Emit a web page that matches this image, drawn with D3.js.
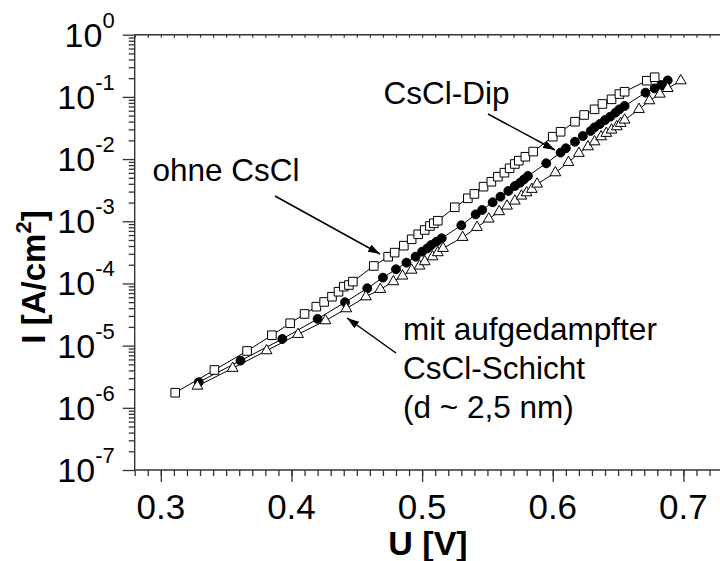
<!DOCTYPE html>
<html>
<head>
<meta charset="utf-8">
<script src="https://cdn.jsdelivr.net/npm/d3@7"></script>
<style>
  html, body { margin: 0; padding: 0; background: #fff; }
  svg { display: block; font-family: "Liberation Sans", Arial, sans-serif; }
</style>
</head>
<body>
<svg id="chart" width="720" height="561"></svg>
<script>
// Current density vs. voltage for three cells
const uOhne = [0.311,0.341,0.366,0.385,0.399,0.410,0.419,0.425,0.431,0.436,0.440,0.444,0.447,0.463,0.474,0.479,0.486,0.492,0.497,0.502,0.506,0.509,0.512,0.525,0.535,0.540,0.547,0.553,0.558,0.563,0.567,0.571,0.574,0.579,0.585,0.600,0.606,0.617,0.624,0.632,0.638,0.645,0.651,0.655,0.672,0.678];
const iOhne = [1.75e-6,4.06e-6,8.20e-6,1.47e-5,2.29e-5,3.23e-5,4.23e-5,5.04e-5,6.12e-5,7.36e-5,8.87e-5,9.44e-5,1.07e-4,1.91e-4,2.69e-4,3.13e-4,4.05e-4,5.13e-4,6.17e-4,7.24e-4,8.40e-4,9.27e-4,1.02e-3,1.68e-3,2.34e-3,2.75e-3,3.60e-3,4.32e-3,5.21e-3,6.04e-3,7.11e-3,8.34e-3,9.42e-3,1.09e-2,1.32e-2,2.29e-2,2.75e-2,3.99e-2,5.12e-2,6.31e-2,7.69e-2,9.14e-2,1.11e-1,1.21e-1,1.82e-1,2.07e-1];

const uDip = [0.329,0.361,0.393,0.420,0.441,0.458,0.470,0.480,0.488,0.495,0.500,0.504,0.507,0.511,0.515,0.530,0.541,0.546,0.554,0.560,0.566,0.571,0.575,0.578,0.581,0.595,0.606,0.610,0.617,0.623,0.629,0.632,0.636,0.640,0.644,0.648,0.651,0.655,0.671,0.678,0.683,0.688];
const iDip = [2.58e-6,5.73e-6,1.28e-5,2.69e-5,4.98e-5,8.36e-5,1.24e-4,1.69e-4,2.16e-4,2.69e-4,3.24e-4,3.67e-4,4.15e-4,4.69e-4,5.32e-4,8.61e-4,1.29e-3,1.52e-3,2.02e-3,2.48e-3,3.07e-3,3.69e-3,4.17e-3,4.73e-3,5.35e-3,8.55e-3,1.27e-2,1.49e-2,1.90e-2,2.35e-2,2.83e-2,3.24e-2,3.66e-2,4.25e-2,4.80e-2,5.57e-2,6.31e-2,7.14e-2,1.17e-1,1.37e-1,1.55e-1,1.84e-1];

const uSchicht = [0.328,0.355,0.381,0.405,0.426,0.442,0.457,0.468,0.478,0.485,0.492,0.498,0.502,0.508,0.512,0.516,0.531,0.542,0.551,0.559,0.565,0.571,0.576,0.580,0.584,0.588,0.602,0.612,0.620,0.627,0.632,0.637,0.641,0.645,0.649,0.652,0.655,0.666,0.674,0.682,0.688,0.698];
const iSchicht = [2.24e-6,4.33e-6,8.30e-6,1.52e-5,2.52e-5,3.93e-5,6.12e-5,8.05e-5,1.07e-4,1.32e-4,1.64e-4,1.91e-4,2.24e-4,2.69e-4,3.13e-4,3.67e-4,5.52e-4,8.00e-4,1.09e-3,1.43e-3,1.76e-3,2.12e-3,2.55e-3,2.88e-3,3.27e-3,3.97e-3,6.04e-3,8.87e-3,1.24e-2,1.58e-2,1.90e-2,2.29e-2,2.60e-2,2.94e-2,3.32e-2,3.76e-2,4.25e-2,6.31e-2,8.69e-2,1.11e-1,1.37e-1,1.82e-1];

const xTicks = [0.3, 0.4, 0.5, 0.6, 0.7];
const yExponents = [0, -1, -2, -3, -4, -5, -6, -7];

const svg = d3.select("#chart");
const plotLeft = 134.7, plotRight = 722.6, plotTop = 34.7, plotBottom = 470;

const x = d3.scaleLinear().domain([0.28, 0.73]).range([plotLeft, plotRight]);
const y = d3.scaleLog().domain([1e-7, 1]).range([plotBottom, plotTop]);

const axisColor = "#333";

// minor ticks every 0.01 V
const xMinor = d3.range(28, 74).map(v => v / 100);

// bottom axis
const gx = svg.append("g").attr("transform", `translate(0,${plotBottom})`);
gx.call(d3.axisBottom(x).tickValues(xMinor).tickSize(6).tickFormat(""));
gx.append("g").call(d3.axisBottom(x).tickValues(xTicks).tickSize(12).tickFormat(""));
gx.selectAll(".domain").remove();
gx.selectAll("line").attr("stroke", axisColor).attr("stroke-width", 1.3);
gx.selectAll(".lbl").data(xTicks).enter().append("text")
  .attr("x", d => x(d)).attr("y", 49)
  .attr("text-anchor", "middle").attr("font-size", 35).attr("fill", "#000")
  .text(d => d.toFixed(1));

// top axis: short inward ticks
const gt = svg.append("g").attr("transform", `translate(0,${plotTop})`);
gt.call(d3.axisBottom(x).tickValues(xMinor).tickSize(3).tickFormat(""));
gt.selectAll(".domain").remove();
gt.selectAll("line").attr("stroke", axisColor).attr("stroke-width", 1.2);

// left axis: log minor ticks
const yMinor = [];
for (let e = -7; e < 0; e++) for (let m = 2; m <= 9; m++) yMinor.push(m * Math.pow(10, e));
const gy = svg.append("g").attr("transform", `translate(${plotLeft},0)`);
gy.call(d3.axisLeft(y).tickValues(yMinor).tickSize(6).tickFormat(""));
gy.append("g").call(d3.axisLeft(y).tickValues(yExponents.map(e => Math.pow(10, e))).tickSize(12).tickFormat(""));
gy.selectAll(".domain").remove();
gy.selectAll("line").attr("stroke", axisColor).attr("stroke-width", 1.3);

const yl = gy.selectAll(".lbl").data(yExponents).enter().append("text")
  .attr("x", -20).attr("y", d => y(Math.pow(10, d)) + 12)
  .attr("text-anchor", "end").attr("font-size", 34).attr("fill", "#000");
yl.append("tspan").text("10");
yl.append("tspan").attr("dy", -19).attr("font-size", 22).text(d => d === 0 ? "0" : "-" + Math.abs(d));

// frame lines
svg.append("line").attr("x1", plotLeft).attr("x2", 720).attr("y1", plotBottom).attr("y2", plotBottom)
  .attr("stroke", axisColor).attr("stroke-width", 1.4);
svg.append("line").attr("x1", plotLeft).attr("x2", 720).attr("y1", plotTop).attr("y2", plotTop)
  .attr("stroke", axisColor).attr("stroke-width", 1.4);
svg.append("line").attr("x1", plotLeft).attr("x2", plotLeft).attr("y1", plotTop).attr("y2", plotBottom)
  .attr("stroke", axisColor).attr("stroke-width", 1.4);

// axis titles
svg.append("text").attr("x", 428).attr("y", 555).attr("text-anchor", "middle")
  .attr("font-size", 34).attr("font-weight", "bold").text("U [V]");
const yt = svg.append("text").attr("transform", "translate(45,277) rotate(-90)")
  .attr("text-anchor", "middle").attr("font-size", 33).attr("font-weight", "bold");
yt.append("tspan").text("I [A/cm");
yt.append("tspan").attr("dy", -14).attr("font-size", 22).text("2");
yt.append("tspan").attr("dy", 14).text("]");

// series
const series = [
  { u: uOhne, i: iOhne, shape: "square" },
  { u: uDip, i: iDip, shape: "circle" },
  { u: uSchicht, i: iSchicht, shape: "triangle" }
];
const line = d3.line().x(d => x(d[0])).y(d => y(d[1]));
const symbols = {
  square: d3.symbol().type(d3.symbolSquare).size(74),
  circle: d3.symbol().type(d3.symbolCircle).size(62),
  triangle: d3.symbol().type(d3.symbolTriangle).size(50)
};
series.forEach(s => {
  const pts = s.u.map((u, k) => [u, s.i[k]]);
  svg.append("path").attr("d", line(pts)).attr("fill", "none")
    .attr("stroke", "#000").attr("stroke-width", 1);
});
series.forEach(s => {
  const pts = s.u.map((u, k) => [u, s.i[k]]);
  svg.append("g").selectAll("path").data(pts).enter().append("path")
    .attr("d", symbols[s.shape])
    .attr("transform", d => `translate(${x(d[0])},${y(d[1])})`)
    .attr("fill", s.shape === "circle" ? "#000" : "#fff")
    .attr("stroke", "#000").attr("stroke-width", 1);
});

// annotations
svg.append("defs").append("marker")
  .attr("id", "head").attr("viewBox", "0 0 12 8").attr("refX", 12).attr("refY", 4)
  .attr("markerUnits", "userSpaceOnUse").attr("markerWidth", 12).attr("markerHeight", 8)
  .attr("orient", "auto")
  .append("path").attr("d", "M0,0 L12,4 L0,8 Z").attr("fill", "#000");

const arrows = [[275, 196, 380, 254], [488, 114, 555, 150], [396, 353, 347, 318]];
arrows.forEach(a => {
  svg.append("line").attr("x1", a[0]).attr("y1", a[1]).attr("x2", a[2]).attr("y2", a[3])
    .attr("stroke", "#000").attr("stroke-width", 1.5).attr("marker-end", "url(#head)");
});

const notes = [
  { x: 383.5, y: 104, t: "CsCl-Dip" },
  { x: 152.5, y: 181, t: "ohne CsCl" },
  { x: 403, y: 340, t: "mit aufgedampfter" },
  { x: 403, y: 379, t: "CsCl-Schicht" },
  { x: 403, y: 418, t: "(d ~ 2,5 nm)" }
];
svg.selectAll(".note").data(notes).enter().append("text")
  .attr("x", d => d.x).attr("y", d => d.y).attr("font-size", 31.5).attr("fill", "#000")
  .text(d => d.t);
</script>
</body>
</html>
